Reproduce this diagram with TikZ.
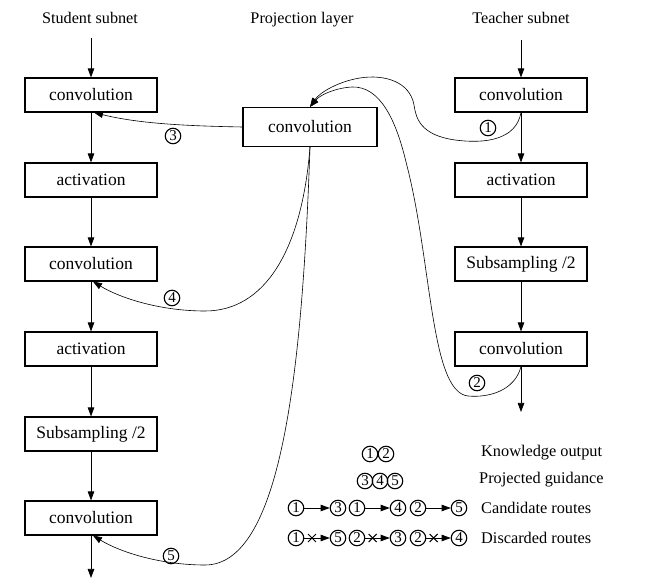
\documentclass[tikz,border=0pt]{standalone}
\usepackage{fontspec}
\setmainfont{Liberation Serif}
\usetikzlibrary{arrows.meta,shapes.misc}
\tikzset{x=1pt, y=-1pt,
  block/.style={draw=black, line width=1.1pt, minimum width=132pt,
        minimum height=34pt, inner sep=0pt, font=\fontsize{17.5}{20}\selectfont},
  title/.style={font=\fontsize{16.2}{18}\selectfont},
  legend text/.style={right, inner sep=0pt, font=\fontsize{16.3}{18}\selectfont},
  num/.style={circle, draw=black, line width=1.1pt, minimum size=15.5pt,
        inner sep=0pt, font=\fontsize{15}{15}\selectfont},
  flow/.style={-{Triangle[length=9pt,width=6.5pt]}, line width=0.7pt},
  guide/.style={-{Triangle[length=9pt,width=6.5pt]}, line width=0.6pt},
  drop mark/.style={cross out, draw=black, line width=0.9pt,
        minimum size=7pt, inner sep=0pt}
}
\def\Route#1#2#3#4#5#6{%
 \node[num] (#1a) at (#3,#2) {#4};
 \node[num] (#1b) at (#5,#2) {#6};
 \draw[flow] (#1a) -- (#1b);
}
\def\Dropped#1#2#3#4#5#6{%
 \Route{#1}{#2}{#3}{#4}{#5}{#6}
 \path (#1a) -- node[drop mark, pos=0.3] {} (#1b);
}
\begin{document}
\begin{tikzpicture}
\useasboundingbox (0,0) rectangle (649,585);
\node[title] (st) at (90,18) {Student subnet};
\node[title] (pt) at (302,20) {Projection layer};
\node[title] (tt) at (521,18) {Teacher subnet};
% student subnet
\node[block] (s1) at (91,95) {convolution};
\node[block] (s2) at (91,180) {activation};
\node[block] (s3) at (91,264) {convolution};
\node[block] (s4) at (91,349) {activation};
\node[block] (s5) at (91,434) {Subsampling /2};
\node[block] (s6) at (91,518) {convolution};
% teacher subnet
\node[block] (t1) at (521,95) {convolution};
\node[block] (t2) at (521,180) {activation};
\node[block] (t3) at (521,264) {Subsampling /2};
\node[block] (t4) at (521,349) {convolution};
% projection layer
\node[block, minimum width=134pt, minimum height=39pt] (p) at (310,127) {convolution};
\coordinate (sin) at (91,38);
\coordinate (sout) at (91,578);
\coordinate (tin) at (521,40);
\coordinate (tout) at (521,412);
\draw[flow] (sin) -- (s1);
\draw[flow] (tin) -- (t1);
\foreach \a/\b in {s1/s2,s2/s3,s3/s4,s4/s5,s5/s6,t1/t2,t2/t3,t3/t4}
  \draw[flow] (\a) -- (\b);
\draw[flow] (s6) -- (sout);
\draw[flow] (t4) -- (tout);
% knowledge and guidance
\draw[guide] (t1.south) .. controls (516,140) and (485,144) .. (455,140)
  .. controls (420,135) and (416,118) .. (414,105)
  .. controls (410,82) and (385,74) .. (360,78)
  .. controls (340,81) and (320,92) .. (p.north);
\draw[guide] (t4.south) .. controls (515,390) and (490,398) .. (468,396)
  .. controls (430,392) and (432,260) .. (406,162)
  .. controls (396,120) and (380,86) .. (352,87)
  .. controls (335,88) and (320,95) .. (p.north);
\draw[guide] (p.west) .. controls (190,126) and (140,124) .. ([xshift=3pt]s1.south);
\draw[guide] (p.south) .. controls (302,250) and (265,311) .. (205,311)
  .. controls (160,311) and (120,298) .. ([xshift=2pt]s3.south);
\draw[guide] (p.south) .. controls (302,380) and (280,565) .. (205,565)
  .. controls (160,565) and (120,552) .. ([xshift=2pt]s6.south);
\node[num] (k1) at (488,128) {1};
\node[num] (k2) at (477,383) {2};
\node[num] (g3) at (173,136) {3};
\node[num] (g4) at (172,298) {4};
\node[num] (g5) at (171,556) {5};
% legend
\node[num] (l1) at (370,454) {1};
\node[num] (l2) at (386,454) {2};
\node[num] (l3) at (365,481) {3};
\node[num] (l4) at (380,481) {4};
\node[num] (l5) at (395,481) {5};
\Route{ra}{508}{296}{1}{338}{3}
\Route{rb}{508}{357}{1}{398}{4}
\Route{rc}{508}{418}{2}{459}{5}
\Dropped{da}{538}{296}{1}{338}{5}
\Dropped{db}{538}{357}{2}{398}{3}
\Dropped{dc}{538}{418}{2}{459}{4}
\node[legend text] (lk) at (481,453) {Knowledge output};
\node[legend text] (lg) at (479,480) {Projected guidance};
\node[legend text] (lc) at (481,508) {Candidate routes};
\node[legend text] (ld) at (481,538) {Discarded routes};
\end{tikzpicture}
\end{document}
